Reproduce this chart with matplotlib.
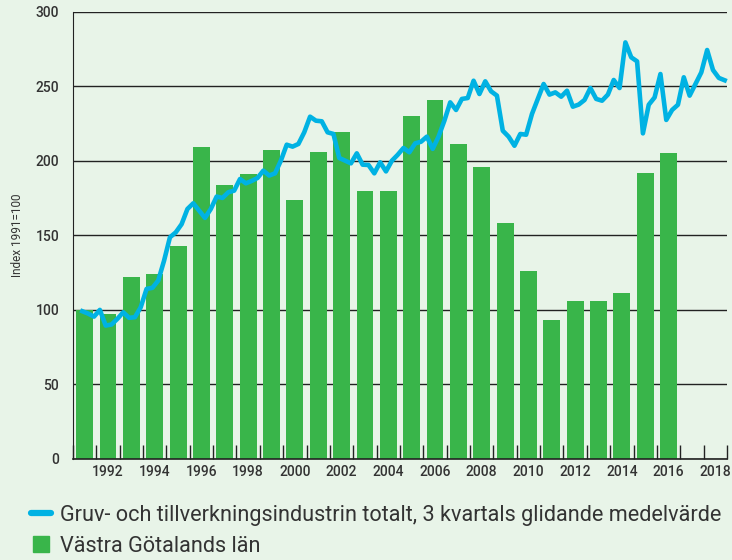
import numpy as np
import matplotlib as mpl
mpl.use("Agg")
from matplotlib import pyplot as plt
from matplotlib.lines import Line2D

# annual index, Västra Götalands län (1991=100)
bar_years = np.arange(1991, 2017)
bar_values = [100, 97, 122, 124, 143, 209, 184, 191, 207, 174, 206, 219, 180,
              180, 230, 241, 211, 196, 158, 126, 93, 106, 106, 111, 192, 205]

# quarterly, 3-quarter moving average, whole country
line_start = 1990.9
line_values = [99.1, 97.5, 95.5, 100.0, 89.5, 90.2, 94.0, 98.4, 94.7, 95.1,
               101.8, 114.1, 114.8, 119.7, 133.1, 148.7, 152.0, 157.5, 167.7, 171.5,
               166.6, 161.7, 167.7, 176.0, 175.1, 178.9, 180.0, 187.8, 184.9, 186.5,
               188.5, 193.4, 190.1, 191.6, 200.1, 210.8, 209.5, 211.3, 219.1, 229.6,
               226.9, 226.5, 219.1, 218.0, 201.9, 200.1, 198.3, 205.0, 197.4, 197.2,
               191.6, 199.0, 192.9, 200.0, 204.0, 208.6, 205.7, 211.7, 212.8, 216.2,
               208.0, 216.2, 226.9, 239.2, 234.1, 241.5, 242.1, 253.7, 244.8, 253.3,
               246.6, 243.7, 220.2, 216.2, 210.1, 218.0, 217.5, 231.4, 241.5, 251.5,
               244.4, 245.9, 243.0, 247.0, 236.3, 237.7, 240.8, 248.8, 241.5, 240.3,
               244.4, 254.2, 248.8, 279.4, 269.4, 266.7, 218.4, 237.6, 242.5, 258.2,
               227.4, 234.1, 237.6, 256.0, 243.7, 251.5, 259.3, 274.3, 260.9, 255.6,
               254.0]

line_label = "Gruv- och tillverkningsindustrin totalt, 3 kvartals glidande medelvärde"
bar_label = "Västra Götalands län"

bg = "#e8f4e8"
green = "#39b54a"
blue = "#00b2e3"
textcol = "#333333"

plt.rcParams["font.family"] = ["Roboto", "DejaVu Sans"]

fig = plt.figure(figsize=(7.32, 5.6), dpi=100, facecolor=bg)
ax = fig.add_axes([73/732, 1-459/560, 654/732, (459-11.7)/560])
ax.set_facecolor(bg)

ax.bar(bar_years, bar_values, width=0.72, color=green, zorder=2)
line_x = line_start + 0.25*np.arange(len(line_values))
ax.plot(line_x, line_values, color=blue, lw=3.3, solid_joinstyle="round", zorder=3, clip_on=False)

ax.set_xlim(1990.5, 2018.5)
ax.set_ylim(0, 300)
ax.set_yticks(np.arange(0, 301, 50))
ax.yaxis.grid(True, color="#222222", lw=1.0, zorder=1)
ax.set_axisbelow(True)
ax.tick_params(axis="y", length=0, pad=10, labelsize=10, labelcolor=textcol)

ax.set_xticks(np.arange(1992, 2019, 2))
ax.set_xticks(np.arange(1990.5, 2018.6, 1), minor=True)
ax.tick_params(axis="x", which="major", length=0, pad=4, labelsize=10, labelcolor=textcol)
ax.tick_params(axis="x", which="minor", direction="in", length=10, width=1, color="#222222")
for lab in ax.get_xticklabels() + ax.get_yticklabels():
    lab.set_fontweight("medium")

for s in ["top", "right"]:
    ax.spines[s].set_visible(False)
ax.spines["left"].set_color("#222222")
ax.spines["bottom"].set_color("#222222")
ax.spines["bottom"].set_linewidth(1.2)

ax.set_ylabel("Index 1991=100", fontsize=8.5, color=textcol, labelpad=8)

handles = [Line2D([0], [0], color=blue, lw=4.5, solid_capstyle="round"),
           Line2D([0], [0], color=green, lw=0, marker="s", markersize=11.5)]
fig.legend(handles, [line_label, bar_label], loc="upper left", bbox_to_anchor=(31/732, 1-505/560),
           frameon=False, fontsize=15.6, handlelength=0.9, borderpad=0, borderaxespad=0,
           handletextpad=0.45, labelspacing=0.45, labelcolor=textcol)

fig.savefig("out.png", dpi=100, facecolor=bg)
